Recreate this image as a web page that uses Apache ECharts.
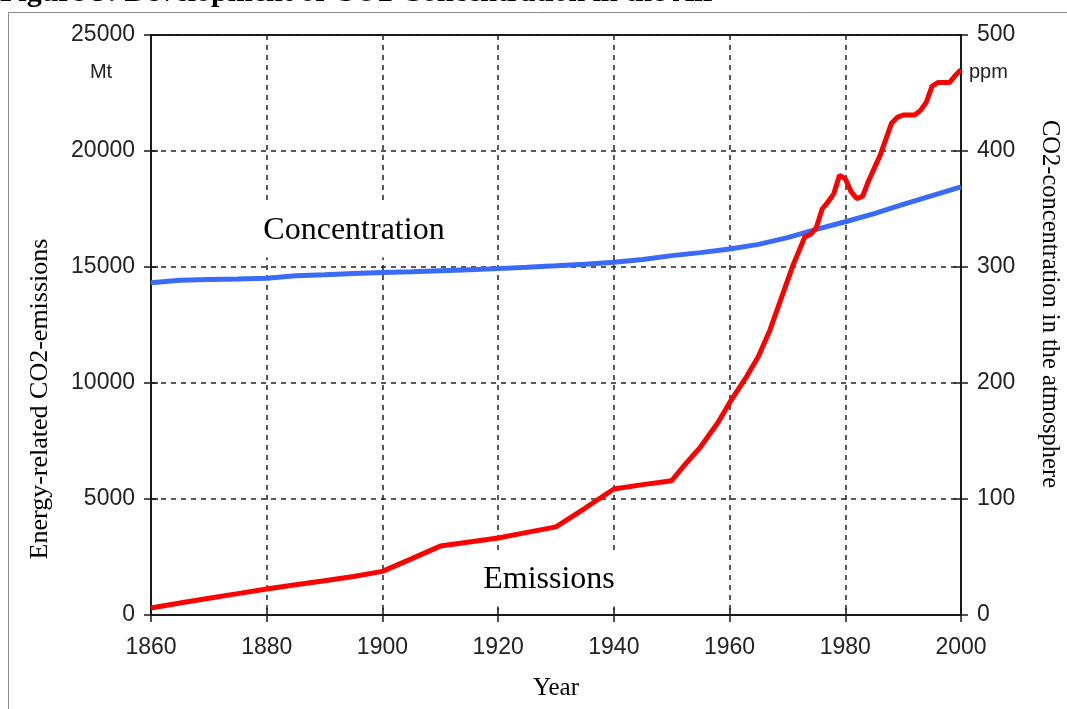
<!DOCTYPE html>
<html>
<head>
<meta charset="utf-8">
<script src="https://cdn.jsdelivr.net/npm/echarts@6/dist/echarts.min.js"></script>
<style>
html,body{margin:0;padding:0;background:#fff;}
#chart{width:1067px;height:709px;}
</style>
</head>
<body>
<div id="chart"></div>
<script>
// ---- data ----
const xTicks = [1860, 1880, 1900, 1920, 1940, 1960, 1980, 2000];
const emissionYears = [1860,1865,1870,1875,1880,1885,1890,1895,1900,1905,1910,1915,1920,1925,1930,1935,1940,1945,1950,1952,1955,1958,1960,1963,1965,1967,1969,1971,1973,1974,1975,1976,1977,1978,1979,1980,1981,1982,1983,1984,1985,1986,1987,1988,1989,1990,1991,1992,1993,1994,1995,1996,1997,1998,1999,2000];
const emissionValues = [300,520,720,920,1120,1300,1480,1660,1880,2420,2970,3150,3320,3560,3800,4600,5430,5620,5790,6400,7250,8300,9150,10300,11150,12300,13700,15100,16300,16400,16700,17500,17800,18150,18950,18800,18250,17950,18050,18700,19250,19800,20500,21200,21450,21550,21550,21550,21750,22100,22800,22950,22950,22950,23250,23500];
const concYears = [1860,1865,1870,1875,1880,1885,1890,1895,1900,1905,1910,1915,1920,1925,1930,1935,1940,1945,1950,1955,1960,1965,1970,1975,1980,1985,1990,1995,2000];
const concValues = [286.5,288.5,289.3,289.7,290.3,292.4,293.3,294.3,295.2,295.8,296.8,297.7,298.6,299.7,301.0,302.4,304.0,306.5,309.8,312.4,315.5,319.5,325.3,332.5,339,346,354,361.5,369];
const leftTicks = [0, 5000, 10000, 15000, 20000, 25000];
const rightTicks = [0, 100, 200, 300, 400, 500];
const texts = {
  title: 'Figure 3: Development of CO2 Concentration in the Air',
  leftName: 'Energy-related CO2-emissions',
  rightName: 'CO2-concentration in the atmosphere',
  xName: 'Year',
  leftUnit: 'Mt',
  rightUnit: 'ppm',
  conc: 'Concentration',
  emis: 'Emissions'
};

const chart = echarts.init(document.getElementById('chart'), null, {renderer: 'canvas'});
const AX = '#1a1a1a';
const LBL = {fontFamily: 'Liberation Sans, Arial, sans-serif', fontSize: 23, color: '#222', formatter: function (v) { return String(v); }};
const SERIF = 'Liberation Serif, Times New Roman, serif';

function mainAxisCommon(min, max, interval) {
  return {
    type: 'value', min: min, max: max, interval: interval,
    axisLine: {show: true, onZero: false, lineStyle: {color: AX, width: 2}},
    axisTick: {show: true, length: 7, lineStyle: {color: AX, width: 1.5}},
  };
}
function innerTickAxis(pos, min, max, interval) {
  return {
    type: 'value', position: pos, min: min, max: max, interval: interval,
    axisLine: {show: false},
    axisTick: {show: true, inside: true, length: 7, lineStyle: {color: AX, width: 1.5}},
    axisLabel: {show: false},
    splitLine: {show: false}
  };
}

const option = {
  animation: false,
  backgroundColor: '#fff',
  grid: {left: 151, top: 35, right: 106, bottom: 94, show: true, borderColor: AX, borderWidth: 2, backgroundColor: 'transparent'},
  xAxis: [
    Object.assign(mainAxisCommon(xTicks[0], xTicks[xTicks.length-1], 20), {
      position: 'bottom',
      axisLabel: Object.assign({margin: 21}, LBL),
      splitLine: {show: true, lineStyle: {color: '#222', width: 1.5, type: [5, 5]}}
    }),
    innerTickAxis('bottom', xTicks[0], xTicks[xTicks.length-1], 20)
  ],
  yAxis: [
    Object.assign(mainAxisCommon(leftTicks[0], leftTicks[leftTicks.length-1], 5000), {
      position: 'left',
      axisLabel: Object.assign({margin: 16}, LBL),
      splitLine: {show: true, lineStyle: {color: '#222', width: 1.5, type: [5, 5]}}
    }),
    Object.assign(mainAxisCommon(rightTicks[0], rightTicks[rightTicks.length-1], 100), {
      position: 'right',
      axisLabel: Object.assign({margin: 16}, LBL),
      splitLine: {show: false}
    }),
    innerTickAxis('left', leftTicks[0], leftTicks[leftTicks.length-1], 5000),
    innerTickAxis('right', rightTicks[0], rightTicks[rightTicks.length-1], 100)
  ],
  series: [
    {
      name: 'Emissions', type: 'line', xAxisIndex: 0, yAxisIndex: 0,
      showSymbol: false, smooth: false, z: 5,
      lineStyle: {color: '#ff0000', width: 5},
      data: emissionYears.map((y, i) => [y, emissionValues[i]])
    },
    {
      name: 'Concentration', type: 'line', xAxisIndex: 0, yAxisIndex: 1,
      showSymbol: false, smooth: false, z: 4,
      lineStyle: {color: '#3a6af8', width: 5},
      data: concYears.map((y, i) => [y, concValues[i]])
    }
  ],
  graphic: [
    {type: 'polyline', z: 1, shape: {points: [[8.5, 709], [8.5, 12.5], [1067, 12.5]]}, style: {stroke: '#8a8a8a', lineWidth: 1, fill: null}},
    {type: 'text', z: 1, x: 0, y: -7, style: {text: texts.title, font: 'bold 30px ' + SERIF, fill: '#000', align: 'left', verticalAlign: 'middle'}},
    {type: 'text', z: 50, x: 40, y: 399, rotation: Math.PI / 2, style: {text: texts.leftName, font: '26px ' + SERIF, fill: '#000', align: 'center', verticalAlign: 'middle'}},
    {type: 'text', z: 50, x: 1049, y: 304, rotation: -Math.PI / 2, style: {text: texts.rightName, font: '24.5px ' + SERIF, fill: '#000', align: 'center', verticalAlign: 'middle'}},
    {type: 'text', z: 50, x: 556, y: 688, style: {text: texts.xName, font: '25px ' + SERIF, fill: '#000', align: 'center', verticalAlign: 'middle'}},
    {type: 'text', z: 50, x: 101, y: 72, style: {text: texts.leftUnit, font: '20px Liberation Sans, Arial, sans-serif', fill: '#222', align: 'center', verticalAlign: 'middle'}},
    {type: 'text', z: 50, x: 969, y: 72, style: {text: texts.rightUnit, font: '20px Liberation Sans, Arial, sans-serif', fill: '#222', align: 'left', verticalAlign: 'middle'}},
    {type: 'text', z: 50, x: 354, y: 231, style: {text: texts.conc, font: '32px ' + SERIF, fill: '#000', align: 'center', verticalAlign: 'middle', backgroundColor: '#fff', padding: [19, 3, 2, 3]}},
    {type: 'text', z: 50, x: 549, y: 580, style: {text: texts.emis, font: '32px ' + SERIF, fill: '#000', align: 'center', verticalAlign: 'middle', backgroundColor: '#fff', padding: [19, 3, 2, 3]}}
  ]
};
chart.setOption(option);
</script>
</body>
</html>
